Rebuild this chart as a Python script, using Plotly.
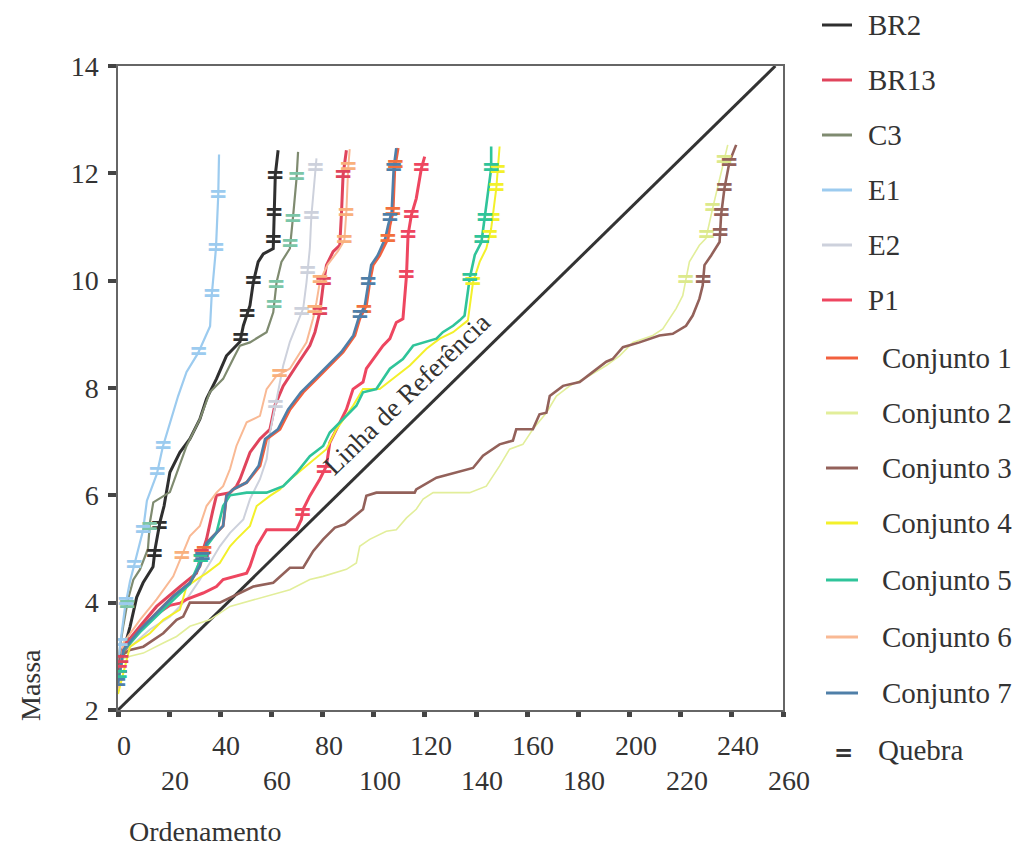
import numpy as np
import plotly.graph_objects as go

# ---------------- data ----------------
series_names = ["BR2", "BR13", "C3", "E1", "E2", "P1", "Conjunto 1", "Conjunto 2",
                "Conjunto 3", "Conjunto 4", "Conjunto 5", "Conjunto 6", "Conjunto 7"]
break_label = "Quebra"

br2_x = [0, 2.7, 4.7, 7.3, 9.8, 13.7, 14.5, 16.4, 18, 20.3, 24.2, 28.1, 32, 34.6, 38.5, 42.4, 47.7, 49, 51.6, 52.9, 54.8, 56.8, 60.7, 61.5, 62.6]
br2_y = [2.95, 3.2, 3.55, 4.1, 4.37, 4.67, 5.0, 5.5, 5.8, 6.43, 6.8, 7.05, 7.42, 7.8, 8.17, 8.6, 8.86, 9.16, 9.54, 9.97, 10.35, 10.5, 10.6, 11.97, 12.43]
br2_breaks = [4.9, 5.43, 8.92, 9.38, 9.98, 10.75, 11.25, 11.94]

br13_x = [0, 2.1, 8.6, 15.1, 24.2, 30.7, 32, 34.6, 37, 38.5, 43.8, 46.3, 47.7, 51.6, 55.5, 59.4, 61.3, 64.6, 69.8, 75, 77, 78.9, 80.2, 81.5, 84.1, 86.7, 87.4, 88, 89.3]
br13_y = [2.6, 3.18, 3.56, 3.93, 4.3, 4.55, 4.8, 5.18, 5.7, 6.0, 6.05, 6.17, 6.3, 6.8, 7.05, 7.23, 7.67, 8.04, 8.42, 8.79, 9.04, 9.41, 9.91, 10.29, 10.54, 10.66, 11.28, 11.97, 12.43]
br13_breaks = [2.93, 4.9, 9.41, 9.97, 11.97]

c3_x = [0, 0.8, 2, 3.9, 6, 8.6, 11.7, 12.5, 13.8, 20.3, 26.8, 32, 35.9, 41.1, 45, 47.7, 51.6, 58.1, 60.7, 62, 63.9, 67.2, 68.5, 69.8, 70.4]
c3_y = [2.8, 3.18, 3.55, 4.06, 4.43, 4.62, 5.0, 5.5, 5.87, 6.06, 6.92, 7.42, 7.92, 8.17, 8.54, 8.79, 8.85, 9.04, 9.41, 9.97, 10.35, 10.6, 11.22, 11.9, 12.4]
c3_breaks = [3.96, 5.4, 9.55, 9.91, 10.67, 11.14, 11.93]

e1_x = [0, 0.8, 2.7, 4.7, 6.6, 9.8, 11.3, 15.2, 17.5, 20.3, 23.5, 26.8, 31.3, 36, 36.6, 38.3, 39.2, 39.5]
e1_y = [2.6, 3.2, 3.9, 4.4, 4.75, 5.35, 5.9, 6.4, 6.9, 7.35, 7.85, 8.3, 8.65, 9.15, 9.7, 10.6, 11.6, 12.35]
e1_breaks = [3.25, 4.0, 4.7, 5.35, 6.43, 6.92, 8.67, 9.74, 10.6, 11.6]

e2_x = [0, 0.8, 3.4, 12.5, 20.3, 26.8, 32, 39.8, 43.8, 49, 51.6, 55.5, 58.1, 59.4, 62, 64.6, 67.2, 69.8, 72.4, 73.7, 75, 75.6, 77, 77.6]
e2_y = [2.7, 2.93, 3.12, 3.5, 3.74, 4.06, 4.43, 5.05, 5.3, 5.55, 5.93, 6.3, 6.67, 7.17, 7.79, 8.42, 8.86, 9.16, 9.48, 9.97, 10.6, 11.2, 12.0, 12.28]
e2_breaks = [7.67, 9.41, 10.17, 11.2, 12.1]

p1_x = [0, 2, 4.7, 9.9, 13.8, 20.3, 24.2, 26.8, 33.3, 38.5, 41.1, 46.3, 50.3, 51.6, 54.2, 58.1, 69.8, 71.7, 72.4, 75, 78.9, 81.5, 82.8, 85.4, 89.3, 91.9, 95.8, 97.1, 99.7, 103.6, 106.3, 108.8, 111.4, 112.8, 113.4, 114.7, 116.6, 118.6, 119.9]
p1_y = [2.6, 3.07, 3.25, 3.56, 3.74, 3.95, 3.99, 4.06, 4.18, 4.3, 4.43, 4.49, 4.55, 4.68, 5.05, 5.36, 5.36, 5.55, 5.74, 5.99, 6.3, 6.55, 6.98, 7.23, 7.6, 7.98, 8.11, 8.36, 8.54, 8.79, 8.92, 9.22, 9.29, 10.1, 10.85, 11.22, 11.53, 12.09, 12.31]
p1_breaks = [2.75, 5.67, 6.46, 10.1, 10.85, 11.22, 12.09]

cj1_x = [0, 2.1, 8.6, 15.1, 21.6, 28.1, 32, 34.6, 38.5, 41.1, 42.4, 45, 50.3, 55.5, 58.1, 63.3, 67.2, 72.4, 77.6, 82.8, 88, 92.6, 94.5, 97.1, 98.4, 99.7, 102.3, 105.6, 106.3, 107.5, 108.2, 109.5]
cj1_y = [2.5, 3.12, 3.5, 3.81, 4.12, 4.37, 4.68, 5.11, 5.3, 5.43, 5.99, 6.11, 6.24, 6.55, 7.05, 7.23, 7.6, 7.92, 8.17, 8.42, 8.67, 8.98, 9.29, 9.54, 9.97, 10.29, 10.47, 10.79, 11.03, 11.28, 12.1, 12.47]
cj1_breaks = [4.95, 9.45, 10.78, 11.28, 12.16]

cj2_x = [0, 0.8, 4.7, 9.9, 17.7, 22.9, 28.1, 35.9, 43.8, 49, 58.1, 67.2, 75, 80.2, 89.3, 93.2, 94.5, 98.4, 104.9, 108.8, 112.8, 116.6, 119.3, 123.2, 137.5, 144, 149.2, 153.1, 158.3, 162.2, 167.5, 171.4, 176.6, 184.4, 190.9, 196.1, 201.3, 209.1, 213, 218.2, 220.8, 222.1, 223.4, 227.3, 229.9, 232.5, 235.2, 238.4]
cj2_y = [2.75, 2.93, 3.0, 3.06, 3.25, 3.37, 3.56, 3.68, 3.93, 4.0, 4.12, 4.24, 4.43, 4.49, 4.62, 4.74, 5.05, 5.18, 5.33, 5.36, 5.58, 5.74, 5.93, 6.05, 6.05, 6.17, 6.55, 6.86, 6.95, 7.23, 7.54, 7.85, 8.04, 8.23, 8.42, 8.6, 8.85, 8.98, 9.1, 9.48, 9.72, 10.04, 10.35, 10.66, 10.79, 11.35, 11.91, 12.53]
cj2_breaks = [10.0, 10.85, 11.35, 12.25]

cj3_x = [0, 0.8, 4.7, 9.9, 17.7, 22.9, 25.5, 28.1, 39.8, 52.9, 60.7, 67.2, 72.4, 76.3, 80.2, 84.8, 88.7, 95.8, 97.1, 101, 116, 116.6, 124.5, 138.8, 142.7, 149.2, 154.4, 155.7, 162.2, 164.8, 167.5, 168.8, 174, 180.5, 185.7, 190.9, 193.4, 197.4, 203.9, 211.7, 216.9, 222.1, 224.7, 227.3, 228.6, 229.3, 231.9, 235.2, 235.8, 237.1, 239.1, 241.7]
cj3_y = [2.7, 3.0, 3.12, 3.18, 3.43, 3.68, 3.74, 4.0, 4.0, 4.3, 4.37, 4.65, 4.65, 4.96, 5.18, 5.4, 5.46, 5.74, 5.99, 6.05, 6.05, 6.11, 6.33, 6.51, 6.74, 6.95, 7.02, 7.23, 7.23, 7.51, 7.54, 7.85, 8.04, 8.11, 8.3, 8.49, 8.54, 8.76, 8.85, 8.98, 9.01, 9.16, 9.35, 9.66, 9.91, 10.29, 10.47, 10.72, 11.22, 11.72, 12.22, 12.53]
cj3_breaks = [10.0, 10.88, 11.25, 11.72, 12.19]

cj4_x = [0, 4.7, 12.5, 17.7, 24.2, 26.8, 30.7, 34.6, 39.8, 43.8, 46.3, 51.6, 54.2, 59.4, 63.3, 65.9, 73.7, 81.5, 85.4, 91.9, 95.8, 102.3, 114.1, 120.6, 125.8, 131, 136.8, 138.8, 141.4, 144, 145.9, 147.9, 149.2]
cj4_y = [2.3, 3.18, 3.43, 3.68, 3.87, 4.3, 4.43, 4.55, 4.74, 5.05, 5.18, 5.43, 5.8, 5.99, 6.11, 6.24, 6.55, 6.86, 7.23, 7.67, 7.98, 7.98, 8.42, 8.73, 8.92, 9.04, 9.26, 9.97, 10.35, 10.6, 10.97, 11.72, 12.5]
cj4_breaks = [9.97, 10.85, 11.16, 11.72, 12.06]

cj5_x = [0, 2.1, 8.6, 15.1, 21.6, 28.1, 34.6, 38.5, 41.1, 43.8, 50.3, 58.1, 64.6, 69.8, 75, 80.2, 82.8, 88, 93.2, 95.8, 101, 106.3, 111.4, 115.4, 119.3, 124.5, 127, 131, 133.6, 135.5, 137.5, 139.5, 142.1, 143.4, 145.9, 145.9]
cj5_y = [2.5, 3.1, 3.45, 3.75, 4.05, 4.35, 5.05, 5.3, 5.8, 6.0, 6.05, 6.05, 6.17, 6.42, 6.73, 6.92, 7.17, 7.42, 7.67, 7.92, 7.98, 8.36, 8.54, 8.79, 8.85, 8.92, 9.04, 9.16, 9.26, 9.35, 10.04, 10.48, 10.72, 11.16, 12.09, 12.5]
cj5_breaks = [2.65, 4.8, 10.04, 10.75, 11.16, 12.09]

cj6_x = [0, 2.1, 8.6, 15.1, 21.6, 25.5, 28.1, 32, 34.6, 38.5, 41.1, 43.8, 46.3, 50.3, 55.5, 58.1, 62, 67.2, 73.7, 76.3, 77.6, 79, 82, 86, 88.5, 89.3, 90, 90.6]
cj6_y = [2.4, 3.25, 3.68, 4.06, 4.49, 4.93, 5.24, 5.43, 5.8, 6.05, 6.17, 6.49, 6.92, 7.36, 7.48, 7.98, 8.23, 8.36, 8.85, 9.3, 9.6, 10.0, 10.3, 10.55, 10.75, 11.3, 12.1, 12.45]
cj6_breaks = [4.87, 8.26, 9.45, 10.0, 10.75, 11.25, 12.12]

cj7_x = [0, 2.1, 8.6, 15.1, 21.6, 28.1, 32, 34.6, 38.5, 41.1, 42.4, 45, 50.3, 55, 57.5, 62.5, 66.5, 71.5, 76.8, 82, 87.3, 92, 94, 96.5, 97.8, 99, 101.5, 104.5, 105.6, 107, 107.8, 108.8]
cj7_y = [2.5, 3.12, 3.5, 3.81, 4.12, 4.37, 4.68, 5.11, 5.3, 5.43, 5.99, 6.11, 6.24, 6.55, 7.05, 7.23, 7.6, 7.92, 8.17, 8.42, 8.67, 8.98, 9.29, 9.54, 9.97, 10.29, 10.47, 10.79, 11.03, 11.28, 12.1, 12.47]
cj7_breaks = [2.5, 4.85, 9.35, 9.97, 11.16, 12.09]

ref_x = [0, 257]
ref_y = [2, 14]

x_ticks = [0, 20, 40, 60, 80, 100, 120, 140, 160, 180, 200, 220, 240, 260]
y_ticks = [2, 4, 6, 8, 10, 12, 14]

# ---------------- styles ----------------
all_x = [br2_x, br13_x, c3_x, e1_x, e2_x, p1_x, cj1_x, cj2_x, cj3_x, cj4_x, cj5_x, cj6_x, cj7_x]
all_y = [br2_y, br13_y, c3_y, e1_y, e2_y, p1_y, cj1_y, cj2_y, cj3_y, cj4_y, cj5_y, cj6_y, cj7_y]
all_b = [br2_breaks, br13_breaks, c3_breaks, e1_breaks, e2_breaks, p1_breaks, cj1_breaks,
         cj2_breaks, cj3_breaks, cj4_breaks, cj5_breaks, cj6_breaks, cj7_breaks]
colors = ["#2f2f2f", "#e0445c", "#7f8b70", "#9ccbef", "#cdd1dc", "#ee4660", "#f2603e",
          "#e2ee9a", "#93615a", "#f3f02a", "#2fc49a", "#f9b994", "#4f7fa8"]
break_colors = ["#2f2f2f", "#e0445c", "#7cc6a8", "#9ccbef", "#cdd1dc", "#ee4660", "#f2703e",
                "#dce98c", "#93615a", "#f3f02a", "#2fc49a", "#f9b07c", "#4f7fa8"]
widths = [3, 3, 2.2, 2.2, 2, 3, 3, 1.6, 2.6, 2, 2.6, 2, 2.6]

FONT = "Liberation Serif"
TXT = "#333333"

# plot-area geometry in pixels (for placing legend / titles in paper space)
L, R, T, B = 118, 783, 66, 710
W, H = 1034, 852


def px_x(px):
    return (px - L) / (R - L)


def px_y(py):
    return (B - py) / (B - T)


fig = go.Figure()

# reference line
fig.add_trace(go.Scatter(x=ref_x, y=ref_y, mode="lines", line=dict(color="#333333", width=3),
                         showlegend=False, hoverinfo="skip", name="Linha de Referência"))

for i, name in enumerate(series_names):
    fig.add_trace(go.Scatter(x=all_x[i], y=all_y[i], mode="lines", name=name,
                             line=dict(color=colors[i], width=widths[i]), showlegend=False))

for i, name in enumerate(series_names):
    yb = np.array(all_b[i], dtype=float)
    xb = np.interp(yb, np.array(all_y[i], dtype=float), np.array(all_x[i], dtype=float))
    fig.add_trace(go.Scatter(x=xb, y=yb, mode="text", text=["="] * len(yb),
                             textposition="middle center", name=name + " " + break_label,
                             textfont=dict(family="DejaVu Sans", size=23, color=break_colors[i],
                                           weight="bold"),
                             showlegend=False, hoverinfo="skip"))

annotations = []
shapes = []

# staggered x tick labels
for v in x_ticks:
    row = (v // 20) % 2
    annotations.append(dict(x=v, y=px_y(745 if row == 0 else 780), xref="x", yref="paper",
                            text=str(v), showarrow=False, xshift=6,
                            font=dict(family=FONT, size=28, color=TXT),
                            xanchor="center", yanchor="middle"))

annotations += [
    dict(x=px_x(30), y=px_y(685), xref="paper", yref="paper", text="Massa", textangle=-90,
         showarrow=False, font=dict(family=FONT, size=28, color=TXT),
         xanchor="center", yanchor="middle"),
    dict(x=px_x(205), y=px_y(831), xref="paper", yref="paper", text="Ordenamento",
         showarrow=False, font=dict(family=FONT, size=28, color=TXT),
         xanchor="center", yanchor="middle"),
    dict(x=116, y=7.45, xref="x", yref="y", text="Linha de Referência", textangle=-44,
         showarrow=False, yshift=24, xshift=-8, font=dict(family=FONT, size=27, color=TXT),
         xanchor="center", yanchor="middle"),
]

# manual legend
row_y = [25, 80, 135, 190, 245, 300, 358, 413, 468, 523, 580, 637, 693]
for i, name in enumerate(series_names):
    conj = name.startswith("Conjunto")
    x0, x1 = (826, 858) if conj else (822, 852)
    tx = 880 if conj else 866
    yy = px_y(row_y[i])
    shapes.append(dict(type="line", xref="paper", yref="paper", x0=px_x(x0), x1=px_x(x1),
                       y0=yy, y1=yy, line=dict(color=colors[i], width=3)))
    annotations.append(dict(x=px_x(tx), y=yy, xref="paper", yref="paper", text=name,
                            showarrow=False, xanchor="left", yanchor="middle",
                            font=dict(family=FONT, size=29, color=TXT)))
annotations.append(dict(x=px_x(843), y=px_y(752), xref="paper", yref="paper", text="=",
                        showarrow=False, xanchor="center", yanchor="middle",
                        font=dict(family="DejaVu Sans", size=23, color=TXT, weight="bold")))
annotations.append(dict(x=px_x(876), y=px_y(750), xref="paper", yref="paper", text=break_label,
                        showarrow=False, xanchor="left", yanchor="middle",
                        font=dict(family=FONT, size=29, color=TXT)))

fig.update_layout(
    width=W, height=H,
    margin=dict(l=L, r=W - R, t=T, b=H - B),
    paper_bgcolor="white", plot_bgcolor="white",
    font=dict(family=FONT, size=28, color=TXT),
    showlegend=False,
    annotations=annotations,
    shapes=shapes,
)
fig.update_xaxes(range=[0, 260], tickvals=x_ticks, showticklabels=False, ticks="outside",
                 ticklen=5, tickwidth=5, tickcolor="#444444", showgrid=False, zeroline=False,
                 showline=True, mirror=True, linecolor="#666666", linewidth=1.5)
fig.update_yaxes(range=[2, 14], tickvals=y_ticks, ticks="outside", ticklen=8, tickwidth=4,
                 tickcolor="#444444", showgrid=False, zeroline=False, showline=True, mirror=True,
                 linecolor="#666666", linewidth=1.5, ticklabelstandoff=4,
                 tickfont=dict(family=FONT, size=28, color=TXT))

fig.write_html("out.html")
